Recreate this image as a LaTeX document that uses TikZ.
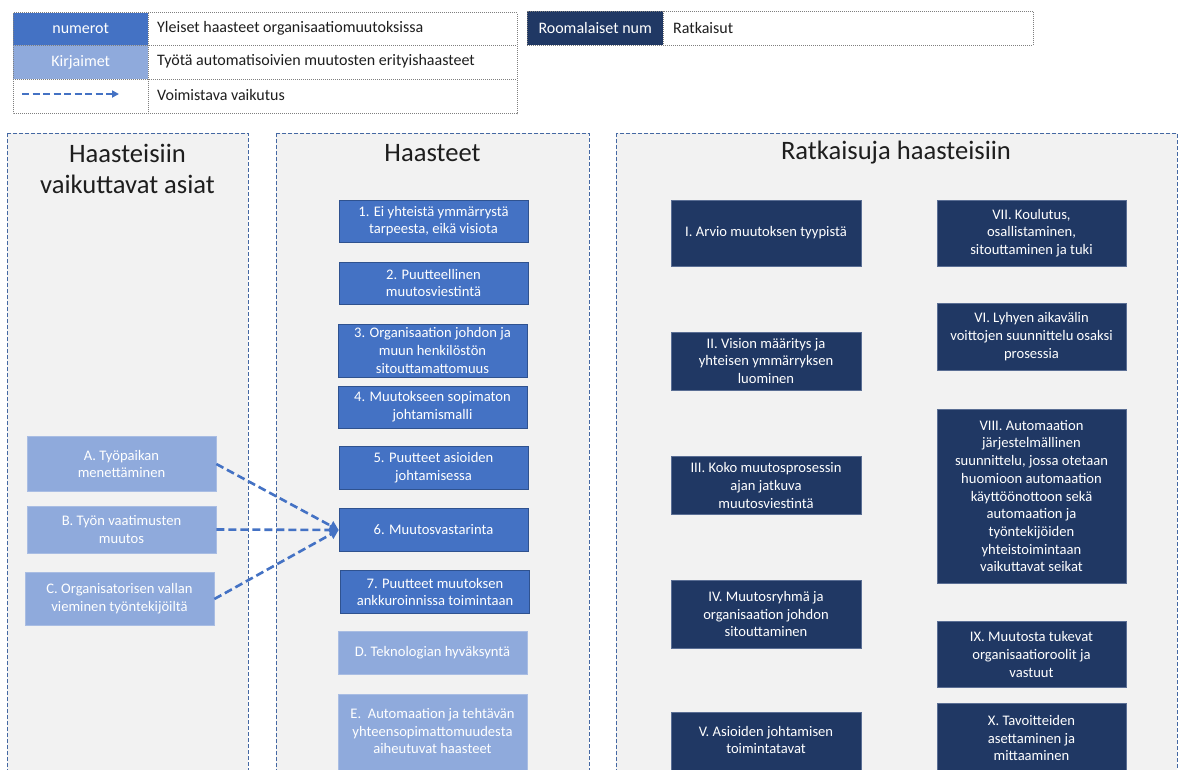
\documentclass[tikz,border=0pt]{standalone}
\usepackage{fontspec}
\setmainfont{Carlito}
\usetikzlibrary{arrows.meta}
\definecolor{midblue}{HTML}{4472C4}
\definecolor{midedge}{HTML}{2F528F}
\definecolor{lightblue}{HTML}{8FAADC}
\definecolor{lightedge}{HTML}{A9BDE3}
\definecolor{navy}{HTML}{203864}
\definecolor{navyedge}{HTML}{5A6E94}
\definecolor{panelfill}{HTML}{F2F2F2}
\definecolor{panelborder}{HTML}{4468A3}
\definecolor{legendborder}{HTML}{7F7F7F}
\definecolor{txt}{HTML}{1E1E1E}
\begin{document}
\begin{tikzpicture}[x=1pt,y=-1pt,
  panel/.style={fill=panelfill, draw=panelborder, line width=1pt, dash pattern=on 4pt off 2pt},
  boxbase/.style={rectangle, inner sep=0pt, align=center, text=white,
    font=\fontsize{14.6}{17.7}\selectfont},
  numbox/.style={boxbase, fill=midblue, draw=midedge, line width=0.7pt, minimum width=189pt},
  letbox/.style={boxbase, fill=lightblue, draw=lightedge, line width=0.7pt, minimum width=189pt},
  romanbox/.style={boxbase, fill=navy, draw=navyedge, line width=0.6pt, minimum width=190pt},
  boxtext/.style={inner sep=0pt, align=center, text=white, font=\fontsize{14.6}{17.7}\selectfont},
  paneltitle/.style={inner sep=0pt, align=center, text=txt, font=\fontsize{26.6}{31}\selectfont},
  legcell/.style={rectangle, inner sep=0pt, anchor=north west, text=white, font=\fontsize{16}{18}\selectfont},
  legtext/.style={inner sep=0pt, anchor=west, text=txt, font=\fontsize{16}{18}\selectfont},
  legline/.style={draw=legendborder, line width=0.8pt, dash pattern=on 1pt off 1pt},
  dasharrow/.style={draw=midblue, line width=2.6pt, dash pattern=on 8pt off 4pt,
    -{Triangle[length=9pt,width=10pt]}},
  legarrow/.style={draw=midblue, line width=2pt, dash pattern=on 7pt off 3.5pt,
    -{Triangle[length=7pt,width=7pt]}}
]
\useasboundingbox (0,0) rectangle (1178,769);
\clip (0,0) rectangle (1178,769);
\fill[white] (0,0) rectangle (1178,769);

% ---------- legend 1 ----------
\node[legcell, fill=midblue, minimum width=135pt, minimum height=32.5pt] (lnum) at (13,12.5) {numerot};
\node[legcell, fill=lightblue, minimum width=135pt, minimum height=34pt] (llet) at (13,45) {Kirjaimet};
\node[legtext] (lnumt) at (157,28) {Yleiset haasteet organisaatiomuutoksissa};
\node[legtext] (llett) at (157,61) {Työtä automatisoivien muutosten erityishaasteet};
\node[legtext] (larrt) at (157,95) {Voimistava vaikutus};
\coordinate (las) at (22,94);
\coordinate (lae) at (119,94);
\draw[legarrow] (las) -- (lae);
\draw[legline] (13,12.5) rectangle (517,113.5);
\draw[legline] (13,45) -- (517,45);
\draw[legline] (13,79) -- (517,79);
\draw[legline] (148,12.5) -- (148,113.5);

% ---------- legend 2 ----------
\node[legcell, fill=navy, minimum width=136pt, minimum height=34pt] (lrom) at (527,11) {Roomalaiset num};
\node[legtext] (lromt) at (673,28) {Ratkaisut};
\draw[legline] (527,11) rectangle (1033,45);
\draw[legline] (663,11) -- (663,45);

% ---------- panels ----------
\draw[panel] (7,133) rectangle (248,800);
\draw[panel] (276,133) rectangle (589,800);
\draw[panel] (616,133) rectangle (1177,800);
\node[paneltitle] (tleft) at (127.5,169) {Haasteisiin\\vaikuttavat asiat};
\node[paneltitle] (tmid) at (432.5,153) {Haasteet};
\node[paneltitle] (tright) at (896,153) {Ratkaisuja haasteisiin};

% ---------- left column ----------
\node[letbox, minimum height=55pt] (A) at (121.5,464) {A. Työpaikan\\menettäminen};
\node[letbox, minimum height=47pt] (B) at (121.5,529.5) {B. Työn vaatimusten\\muutos};
\node[letbox, minimum height=53pt] (C) at (119.5,599) {C. Organisatorisen vallan\\vieminen työntekijöiltä};

% ---------- middle column ----------
\node[numbox, minimum height=42pt] (n1) at (433.5,221) {1. Ei yhteistä ymmärrystä\\tarpeesta, eikä visiota};
\node[numbox, minimum height=42pt] (n2) at (433.5,283) {2. Puutteellinen\\muutosviestintä};
\node[numbox, minimum height=53pt] (n3) at (432.5,350.5) {3. Organisaation johdon ja\\muun henkilöstön\\sitouttamattomuus};
\node[numbox, minimum height=42pt] (n4) at (432.5,407) {4. Muutokseen sopimaton\\johtamismalli};
\node[numbox, minimum height=43pt] (n5) at (433.5,467.5) {5. Puutteet asioiden\\johtamisessa};
\node[numbox, minimum height=43pt] (n6) at (433.5,530) {6. Muutosvastarinta};
\node[numbox, minimum height=43pt] (n7) at (435,592) {7. Puutteet muutoksen\\ankkuroinnissa toimintaan};
\node[letbox, minimum height=43pt] (nD) at (432.5,652.5) {D. Teknologian hyväksyntä};
\node[letbox, minimum height=100pt, anchor=north] (nE) at (432.5,694) {};
\node[boxtext] (nEt) at (432.5,731) {E.\ \ Automaation ja tehtävän\\yhteensopimattomuudesta\\aiheutuvat haasteet};

% ---------- right panel ----------
\node[romanbox, minimum height=66pt] (r1) at (766,233) {I. Arvio muutoksen tyypistä};
\node[romanbox, minimum height=58pt] (r2) at (766,361) {II. Vision määritys ja\\yhteisen ymmärryksen\\luominen};
\node[romanbox, minimum height=58pt] (r3) at (766,485.5) {III. Koko muutosprosessin\\ajan jatkuva\\muutosviestintä};
\node[romanbox, minimum height=68pt] (r4) at (766,614) {IV. Muutosryhmä ja\\organisaation johdon\\sitouttaminen};
\node[romanbox, minimum height=100pt, anchor=north] (r5) at (766,712) {};
\node[boxtext] (r5t) at (766,740) {V. Asioiden johtamisen\\toimintatavat};

\node[romanbox, minimum width=189pt, minimum height=66pt] (r7) at (1031.5,233) {VII. Koulutus,\\osallistaminen,\\sitouttaminen ja tuki};
\node[romanbox, minimum width=189pt, minimum height=67pt] (r6) at (1031.5,336.5) {VI. Lyhyen aikavälin\\voittojen suunnittelu osaksi\\prosessia};
\node[romanbox, minimum width=189pt, minimum height=174pt] (r8) at (1031.5,496) {VIII. Automaation\\järjestelmällinen\\suunnittelu, jossa otetaan\\huomioon automaation\\käyttöönottoon sekä\\automaation ja\\työntekijöiden\\yhteistoimintaan\\vaikuttavat seikat};
\node[romanbox, minimum width=189pt, minimum height=66pt] (r9) at (1031.5,654.5) {IX. Muutosta tukevat\\organisaatioroolit ja\\vastuut};
\node[romanbox, minimum width=189pt, minimum height=100pt, anchor=north] (r10) at (1031.5,703) {};
\node[boxtext] (r10t) at (1031.5,738) {X. Tavoitteiden\\asettaminen ja\\mittaaminen};

% ---------- connectors ----------
\draw[dasharrow] (A.east) -- (n6.west);
\draw[dasharrow] (B.east) -- (n6.west);
\draw[dasharrow] (C.east) -- (n6.west);
\end{tikzpicture}
\end{document}
